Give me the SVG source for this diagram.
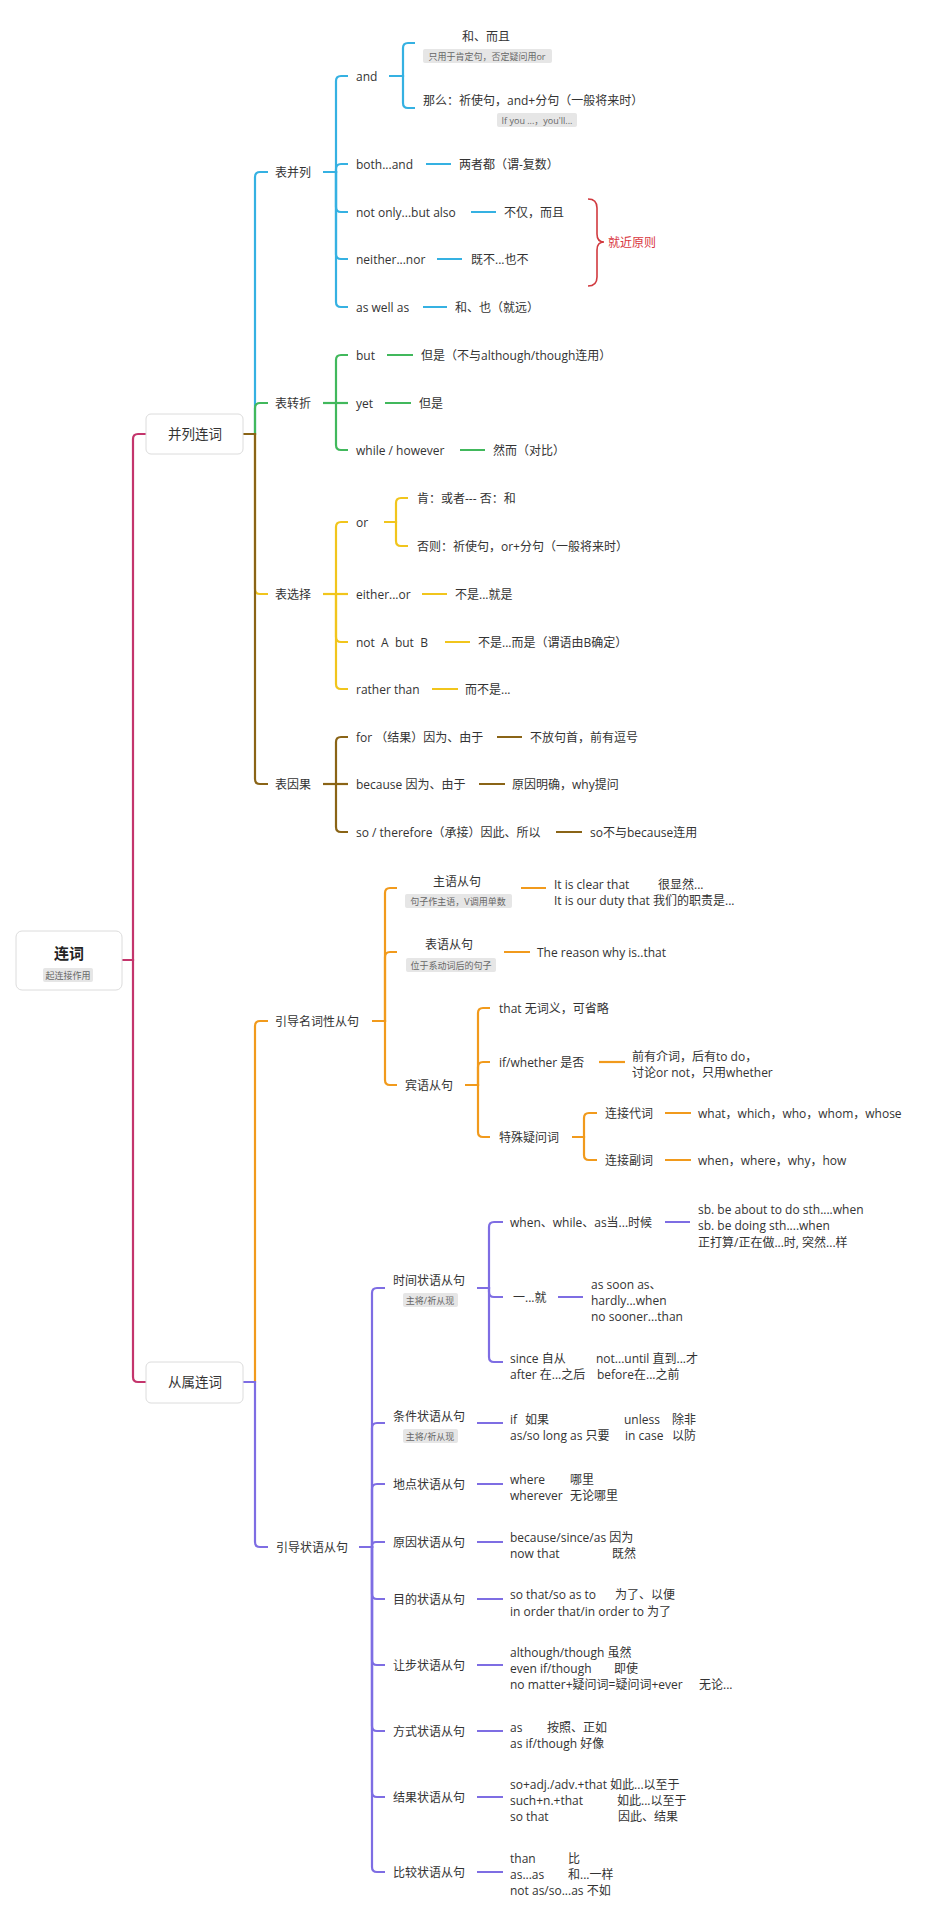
<svg xmlns="http://www.w3.org/2000/svg" width="932" height="1920" viewBox="0 0 932 1920">
<style>
text{font-family:'Open Sans','Noto Sans CJK SC',sans-serif;font-size:12px;fill:#333;dominant-baseline:central}
.lb{font-size:9px;fill:#666;text-anchor:middle}
.mid{text-anchor:middle}
.lbg{fill:#e6e6e6}
.box{fill:#fff;stroke:#dcdcdc;stroke-width:1}
.c path{fill:none;stroke-width:2.2}
.pink{stroke:#c4356c}.blue{stroke:#35b1e2}.green{stroke:#41b85c}.yellow{stroke:#f1c51c}.brown{stroke:#8a6416}.orange{stroke:#f19a1c}.purple{stroke:#7e6de3}
</style>
<rect width="932" height="1920" fill="#fff"/>
<g id="connectors" class="c">
<path class="pink" d="M122 960H133V439Q133 434 138 434H146"/>
<path class="pink" d="M122 960H133V1377Q133 1382 138 1382H146"/>
<path class="blue" d="M243 434H255V177Q255 172 260 172H268"/>
<path class="green" d="M243 434H255V408Q255 403 260 403H268"/>
<path class="yellow" d="M243 434H255V589Q255 594 260 594H268"/>
<path class="brown" d="M243 434H255V779Q255 784 260 784H268"/>
<path class="orange" d="M243 1382H255V1026Q255 1021 260 1021H268"/>
<path class="purple" d="M243 1382H255V1542Q255 1547 260 1547H268"/>
<path class="blue" d="M323 172H336V81Q336 76 341 76H348"/>
<path class="blue" d="M323 172H336V169Q336 164 341 164H348"/>
<path class="blue" d="M323 172H336V207Q336 212 341 212H348"/>
<path class="blue" d="M323 172H336V254Q336 259 341 259H348"/>
<path class="blue" d="M323 172H336V302Q336 307 341 307H348"/>
<path class="blue" d="M389 76H403V48Q403 43 408 43H415"/>
<path class="blue" d="M389 76H403V103Q403 108 408 108H415"/>
<path class="blue" d="M426 164H451M471 212H496M437 259H462M423 307H447"/>
<path class="green" d="M323 403H336V360Q336 355 341 355H348"/>
<path class="green" d="M323 403H348"/>
<path class="green" d="M323 403H336V445Q336 450 341 450H348"/>
<path class="green" d="M387 355H413M385 403H411M460 450H485"/>
<path class="yellow" d="M323 594H336V527Q336 522 341 522H348"/>
<path class="yellow" d="M323 594H348"/>
<path class="yellow" d="M323 594H336V637Q336 642 341 642H348"/>
<path class="yellow" d="M323 594H336V684Q336 689 341 689H348"/>
<path class="yellow" d="M384 522H396V503Q396 498 401 498H408"/>
<path class="yellow" d="M384 522H396V541Q396 546 401 546H408"/>
<path class="yellow" d="M422 594H447M445 642H470M432 689H458"/>
<path class="brown" d="M323 784H336V742Q336 737 341 737H348"/>
<path class="brown" d="M323 784H348"/>
<path class="brown" d="M323 784H336V827Q336 832 341 832H348"/>
<path class="brown" d="M497 737H522M479 784H505M556 832H582"/>
<path class="orange" d="M372 1021H385V893Q385 888 390 888H397"/>
<path class="orange" d="M372 1021H385V957Q385 952 390 952H397"/>
<path class="orange" d="M372 1021H385V1080Q385 1085 390 1085H397"/>
<path class="orange" d="M521 888H546M504 952H530"/>
<path class="orange" d="M465 1085H478V1013Q478 1008 483 1008H490"/>
<path class="orange" d="M465 1085H478V1067Q478 1062 483 1062H490"/>
<path class="orange" d="M465 1085H478V1132Q478 1137 483 1137H490"/>
<path class="orange" d="M599 1062H625"/>
<path class="orange" d="M572 1137H584V1118Q584 1113 589 1113H597"/>
<path class="orange" d="M572 1137H584V1155Q584 1160 589 1160H597"/>
<path class="orange" d="M665 1113H691M665 1160H691"/>
<path class="purple" d="M359 1547H372V1293Q372 1288 377 1288H385"/>
<path class="purple" d="M359 1547H372V1428Q372 1423 377 1423H385"/>
<path class="purple" d="M359 1547H372V1489Q372 1484 377 1484H385"/>
<path class="purple" d="M359 1547H372V1546Q372 1542 376 1542H385"/>
<path class="purple" d="M359 1547H372V1594Q372 1599 377 1599H385"/>
<path class="purple" d="M359 1547H372V1660Q372 1665 377 1665H385"/>
<path class="purple" d="M359 1547H372V1726Q372 1731 377 1731H385"/>
<path class="purple" d="M359 1547H372V1792Q372 1797 377 1797H385"/>
<path class="purple" d="M359 1547H372V1867Q372 1872 377 1872H385"/>
<path class="purple" d="M477 1288H489V1227Q489 1222 494 1222H503"/>
<path class="purple" d="M477 1288H489V1292Q489 1297 494 1297H503"/>
<path class="purple" d="M477 1288H489V1357Q489 1362 494 1362H503"/>
<path class="purple" d="M665 1222H690M558 1297H583"/>
<path class="purple" d="M477 1423H503M477 1484H503M477 1542H503M477 1599H503M477 1665H503M477 1731H503M477 1797H503M477 1872H503"/>
<path d="M588 199Q597 199 597 208V234Q597 242 604 242Q597 242 597 250V277Q597 286 588 286" style="stroke:#d13a3f;stroke-width:1.6"/>
</g>
<g id="root">
<rect class="box" x="16" y="931" width="106" height="59" rx="6"/>
<text class="mid" x="69" y="953" style="font-size:15px;font-weight:bold;fill:#222">连词</text>
<rect class="lbg" x="43" y="968" width="50" height="14" rx="2"/>
<text class="lb" x="68" y="975">起连接作用</text>
</g>
<g id="n-binglie">
<rect class="box" x="146" y="414" width="97" height="40" rx="5"/>
<text class="mid" x="195" y="434" style="font-size:13.5px">并列连词</text>
</g>
<g id="n-congshu">
<rect class="box" x="146" y="1362" width="97" height="41" rx="5"/>
<text class="mid" x="195" y="1382" style="font-size:13.5px">从属连词</text>
</g>
<g id="n-bingliebiao"><text x="275" y="172">表并列</text></g>
<g id="n-zhuanzhe"><text x="275" y="403">表转折</text></g>
<g id="n-xuanze"><text x="275" y="594">表选择</text></g>
<g id="n-yinguo"><text x="275" y="784">表因果</text></g>
<g id="n-mingci"><text x="275" y="1021">引导名词性从句</text></g>
<g id="n-zhuangyu"><text x="276" y="1547">引导状语从句</text></g>
<g id="n-and"><text x="356" y="76">and</text></g>
<g id="n-and1">
<text class="mid" x="486" y="36">和、而且</text>
<rect class="lbg" x="423" y="49" width="129" height="14" rx="2"/>
<text class="lb" x="487" y="56">只用于肯定句，否定疑问用or</text>
</g>
<g id="n-and2">
<text x="423" y="100">那么：祈使句，and+分句（一般将来时）</text>
<rect class="lbg" x="497" y="113" width="80" height="14" rx="2"/>
<text class="lb" x="537" y="120">If you ...，you'll...</text>
</g>
<g id="n-both"><text x="356" y="164">both...and</text><text x="459" y="164">两者都（谓-复数）</text></g>
<g id="n-notonly"><text x="356" y="212">not only...but also</text><text x="504" y="212">不仅，而且</text></g>
<g id="n-neither"><text x="356" y="259">neither...nor</text><text x="471" y="259">既不...也不</text></g>
<g id="n-aswell"><text x="356" y="307">as well as</text><text x="455" y="307">和、也（就远）</text></g>
<g id="n-jiujin"><text x="608" y="242" style="fill:#d9363e">就近原则</text></g>
<g id="n-but"><text x="356" y="355">but</text><text x="421" y="355">但是（不与although/though连用）</text></g>
<g id="n-yet"><text x="356" y="403">yet</text><text x="419" y="403">但是</text></g>
<g id="n-while"><text x="356" y="450">while / however</text><text x="493" y="450">然而（对比）</text></g>
<g id="n-or"><text x="356" y="522">or</text><text x="417" y="498">肯：或者--- 否：和</text><text x="417" y="546">否则：祈使句，or+分句（一般将来时）</text></g>
<g id="n-either"><text x="356" y="594">either...or</text><text x="455" y="594">不是...就是</text></g>
<g id="n-notab"><text x="356" y="642" xml:space="preserve">not  A  but  B</text><text x="478" y="642">不是...而是（谓语由B确定）</text></g>
<g id="n-rather"><text x="356" y="689">rather than</text><text x="465" y="689">而不是...</text></g>
<g id="n-for"><text x="356" y="737">for （结果）因为、由于</text><text x="530" y="737">不放句首，前有逗号</text></g>
<g id="n-because"><text x="356" y="784">because 因为、由于</text><text x="512" y="784">原因明确，why提问</text></g>
<g id="n-so"><text x="356" y="832">so / therefore（承接）因此、所以</text><text x="590" y="832">so不与because连用</text></g>
<g id="n-zhuyu">
<text class="mid" x="457" y="881">主语从句</text>
<rect class="lbg" x="405" y="894" width="107" height="14" rx="2"/>
<text class="lb" x="458" y="901">句子作主语，V调用单数</text>
<text x="554" y="884">It is clear that</text><text x="658" y="884">很显然...</text>
<text x="554" y="900">It is our duty that 我们的职责是...</text>
</g>
<g id="n-biaoyu">
<text class="mid" x="449" y="944">表语从句</text>
<rect class="lbg" x="406" y="958" width="90" height="14" rx="2"/>
<text class="lb" x="451" y="965">位于系动词后的句子</text>
<text x="537" y="952">The reason why is..that</text>
</g>
<g id="n-binyu"><text x="405" y="1085">宾语从句</text></g>
<g id="n-that"><text x="499" y="1008">that 无词义，可省略</text></g>
<g id="n-ifwhether"><text x="499" y="1062">if/whether 是否</text><text x="632" y="1056">前有介词，后有to do，</text><text x="632" y="1072">讨论or not，只用whether</text></g>
<g id="n-teshu"><text x="499" y="1137">特殊疑问词</text></g>
<g id="n-daici"><text x="605" y="1113">连接代词</text><text x="698" y="1113">what，which，who，whom，whose</text></g>
<g id="n-fuci"><text x="605" y="1160">连接副词</text><text x="698" y="1160">when，where，why，how</text></g>
<g id="n-shijian">
<text x="393" y="1280">时间状语从句</text>
<rect class="lbg" x="403" y="1293" width="55" height="14" rx="2"/>
<text class="lb" x="430" y="1300">主将/祈从现</text>
</g>
<g id="n-when"><text x="510" y="1222">when、while、as当...时候</text>
<text x="698" y="1209">sb. be about to do sth....when</text><text x="698" y="1225">sb. be doing sth....when</text><text x="698" y="1242">正打算/正在做...时, 突然...样</text></g>
<g id="n-yijiu"><text x="513" y="1297">一...就</text>
<text x="591" y="1284">as soon as、</text><text x="591" y="1300">hardly...when</text><text x="591" y="1316">no sooner...than</text></g>
<g id="n-since"><text x="510" y="1358">since 自从</text><text x="596" y="1358">not...until 直到...才</text>
<text x="510" y="1374">after 在...之后</text><text x="597" y="1374">before在...之前</text></g>
<g id="n-tiaojian">
<text x="393" y="1416">条件状语从句</text>
<rect class="lbg" x="403" y="1429" width="55" height="14" rx="2"/>
<text class="lb" x="430" y="1436">主将/祈从现</text>
<text x="510" y="1419">if</text><text x="525" y="1419">如果</text><text x="624" y="1419">unless</text><text x="672" y="1419">除非</text>
<text x="510" y="1435">as/so long as 只要</text><text x="625" y="1435">in case</text><text x="672" y="1435">以防</text>
</g>
<g id="n-didian"><text x="393" y="1484">地点状语从句</text>
<text x="510" y="1479">where</text><text x="570" y="1479">哪里</text><text x="510" y="1495">wherever</text><text x="570" y="1495">无论哪里</text></g>
<g id="n-yuanyin"><text x="393" y="1542">原因状语从句</text>
<text x="510" y="1537">because/since/as 因为</text><text x="510" y="1553">now that</text><text x="612" y="1553">既然</text></g>
<g id="n-mudi"><text x="393" y="1599">目的状语从句</text>
<text x="510" y="1594">so that/so as to</text><text x="615" y="1594">为了、以便</text><text x="510" y="1611">in order that/in order to 为了</text></g>
<g id="n-rangbu"><text x="393" y="1665">让步状语从句</text>
<text x="510" y="1652">although/though 虽然</text><text x="510" y="1668">even if/though</text><text x="614" y="1668">即使</text>
<text x="510" y="1684">no matter+疑问词=疑问词+ever</text><text x="699" y="1684">无论...</text></g>
<g id="n-fangshi"><text x="393" y="1731">方式状语从句</text>
<text x="510" y="1727">as</text><text x="547" y="1727">按照、正如</text><text x="510" y="1743">as if/though 好像</text></g>
<g id="n-jieguo"><text x="393" y="1797">结果状语从句</text>
<text x="510" y="1784">so+adj./adv.+that 如此...以至于</text><text x="510" y="1800">such+n.+that</text><text x="617" y="1800">如此...以至于</text>
<text x="510" y="1816">so that</text><text x="618" y="1816">因此、结果</text></g>
<g id="n-bijiao"><text x="393" y="1872">比较状语从句</text>
<text x="510" y="1858">than</text><text x="568" y="1858">比</text><text x="510" y="1874">as...as</text><text x="568" y="1874">和...一样</text>
<text x="510" y="1890">not as/so...as 不如</text></g>
</svg>
